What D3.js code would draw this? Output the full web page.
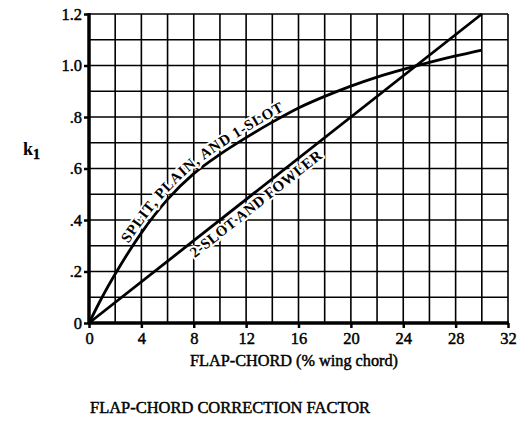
<!DOCTYPE html>
<html>
<head>
<meta charset="utf-8">
<script src="https://cdn.jsdelivr.net/npm/d3@7"></script>
<style>
  html, body { margin: 0; padding: 0; background: #fff; }
  svg { display: block; }
  text { font-family: "Liberation Serif", "Times New Roman", serif; fill: #000; }
  .ink { stroke: #000; stroke-width: 0.45px; }
  .curveLabel { fill: #000; stroke: #fff; stroke-width: 4px; stroke-linejoin: round; paint-order: stroke; font-weight: bold; }
</style>
</head>
<body>
<svg id="chart" width="522" height="424"></svg>
<script>
// ---- data ----
const xTicks = [0, 4, 8, 12, 16, 20, 24, 28, 32];
const yTicks = [0, 0.2, 0.4, 0.6, 0.8, 1.0, 1.2];
const yTickLabels = ["0", ".2", ".4", ".6", ".8", "1.0", "1.2"];
const splitX = [0, 1, 2, 4, 6, 8, 10, 12, 14, 16, 18, 20, 22, 24, 26, 28, 30];
const splitY = [0, 0.1, 0.19, 0.35, 0.48, 0.58, 0.655, 0.72, 0.78, 0.835, 0.88, 0.92, 0.955, 0.985, 1.012, 1.037, 1.06];
const fowlerX = [0, 30];
const fowlerY = [0, 1.2];
const splitLabel = "SPLIT, PLAIN, AND 1-SLOT";
const fowlerLabel = "2-SLOT AND FOWLER";
const xTitle = "FLAP-CHORD (% wing chord)";
const yTitle = "k";
const ySub = "1";
const chartTitle = "FLAP-CHORD CORRECTION FACTOR";

// ---- layout ----
const svg = d3.select("#chart");
const x = d3.scaleLinear().domain([0, 32]).range([89, 508]);
const y = d3.scaleLinear().domain([0, 1.2]).range([323, 14]);

// grid
const g = svg.append("g");
g.selectAll("line.vg").data(d3.range(2, 33, 2)).join("line")
  .attr("x1", d => x(d)).attr("x2", d => x(d))
  .attr("y1", y(0)).attr("y2", y(1.2))
  .attr("stroke", "#000").attr("stroke-width", 1.6);
g.selectAll("line.hg").data(d3.range(1, 13).map(i => i / 10)).join("line")
  .attr("x1", x(0)).attr("x2", x(32))
  .attr("y1", d => y(d)).attr("y2", d => y(d))
  .attr("stroke", "#000").attr("stroke-width", 1.6);

// axes
const xAxis = d3.axisBottom(x).tickValues(xTicks).tickSize(5).tickPadding(3).tickFormat(d3.format("d"));
const gx = svg.append("g").attr("transform", `translate(0,${y(0)})`).call(xAxis);
gx.select(".domain").attr("stroke-width", 3.5).attr("d", `M${x(0)-1},0H${x(32)+1}`);
gx.selectAll(".tick line").attr("stroke-width", 2.5);
gx.selectAll(".tick text").attr("font-size", 16.5).attr("font-family", "Liberation Serif")
  .attr("dy", "0.8em").attr("class", "ink");

const yAxis = d3.axisLeft(y).tickValues(yTicks).tickSize(5).tickPadding(2)
  .tickFormat((d, i) => yTickLabels[i]);
const gy = svg.append("g").attr("transform", `translate(${x(0)},0)`).call(yAxis);
gy.select(".domain").attr("stroke-width", 3.5).attr("d", `M0,${y(0)+1}V${y(1.2)-1}`);
gy.selectAll(".tick line").attr("stroke-width", 2.5);
gy.selectAll(".tick text").attr("font-size", 16.5).attr("font-family", "Liberation Serif").attr("class", "ink");

// curves
const line = d3.line().x(d => x(d[0])).y(d => y(d[1])).curve(d3.curveMonotoneX);
const splitData = splitX.map((v, i) => [v, splitY[i]]);
const fowlerData = fowlerX.map((v, i) => [v, fowlerY[i]]);
svg.append("path").attr("id", "splitPath").attr("d", line(splitData))
  .attr("fill", "none").attr("stroke", "#000").attr("stroke-width", 2.8);
svg.append("path").attr("id", "fowlerPath").attr("d", line(fowlerData))
  .attr("fill", "none").attr("stroke", "#000").attr("stroke-width", 2.8);

function offsetAt(id, xv) {
  const p = document.getElementById(id);
  const L = p.getTotalLength();
  let lo = 0, hi = L;
  for (let k = 0; k < 40; k++) {
    const m = (lo + hi) / 2;
    if (p.getPointAtLength(m).x < x(xv)) lo = m; else hi = m;
  }
  return lo;
}

// split label sits above its curve, fowler label below its line
const labels = [
  { id: "splitPath", text: splitLabel, start: 3.3, dy: -4.5, ls: 0.6 },
  { id: "fowlerPath", text: fowlerLabel, start: 7.4, dy: 14.5, ls: 0.3 }
];
labels.forEach(l => {
  svg.append("text").attr("font-size", 15).attr("dy", l.dy).attr("letter-spacing", l.ls)
    .attr("class", "curveLabel")
    .append("textPath").attr("href", "#" + l.id)
    .attr("startOffset", offsetAt(l.id, l.start)).text(l.text);
});

// titles
const yt = svg.append("text").attr("x", 23).attr("y", 155).attr("font-size", 18).attr("font-weight", "bold");
yt.append("tspan").text(yTitle);
yt.append("tspan").attr("dy", 4).attr("font-size", 14).attr("class", "ink").text(ySub);

svg.append("text").attr("x", 190).attr("y", 366)
  .attr("font-size", 16).attr("class", "ink")
  .attr("textLength", 208).attr("lengthAdjust", "spacingAndGlyphs").text(xTitle);
svg.append("text").attr("x", 90).attr("y", 413)
  .attr("font-size", 16).attr("class", "ink")
  .attr("textLength", 280).attr("lengthAdjust", "spacingAndGlyphs").text(chartTitle);
</script>
</body>
</html>
